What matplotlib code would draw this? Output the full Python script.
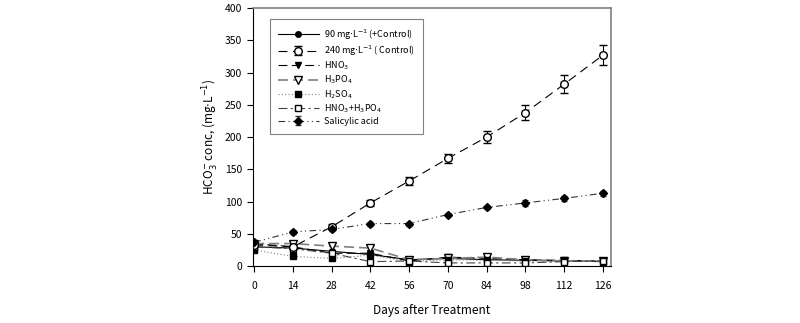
import matplotlib.pyplot as plt
import numpy as np

plt.rcParams['font.family'] = ['Noto Sans CJK KR', 'DejaVu Sans']
plt.rcParams['mathtext.fontset'] = 'dejavusans'

days = [0, 14, 28, 42, 56, 70, 84, 98, 112, 126]

plus_control = [30, 28, 23, 18, 10, 12, 10, 9, 8, 7]
control = [33, 30, 61, 98, 132, 167, 200, 238, 282, 327]
control_err = [3, 3, 4, 5, 6, 7, 9, 11, 14, 15]
hno3 = [35, 30, 20, 20, 8, 14, 12, 10, 9, 8]
h3po4 = [35, 35, 31, 28, 10, 12, 14, 10, 8, 8]
h2so4 = [25, 15, 12, 17, 7, 10, 9, 8, 8, 7]
hno3_h3po4 = [30, 27, 20, 7, 8, 5, 5, 5, 7, 8]
salicylic = [37, 53, 57, 66, 66, 80, 91, 98, 105, 113]
salicylic_err = [2, 3, 3, 3, 3, 3, 3, 4, 4, 4]

labels = ['90 mg$\\cdot$L$^{-1}$ (+Control)', '240 mg$\\cdot$L$^{-1}$ ( Control)',
          'HNO$_3$', 'H$_3$PO$_4$', 'H$_2$SO$_4$', 'HNO$_3$+H$_3$PO$_4$', 'Salicylic acid']

fig = plt.figure(figsize=(8, 3.23), dpi=100)
ax = fig.add_axes([0.316, 0.176, 0.448, 0.799])

lw = 0.8
ms = 4
h1, = ax.plot(days, plus_control, '-', color='black', lw=lw, marker='o', ms=ms,
              mfc='black', mec='black')
h2 = ax.errorbar(days, control, yerr=control_err, color='black', lw=lw, ls=(0, (8, 5)),
                 marker='o', ms=ms + 1.5, mfc='white', mec='black', capsize=3,
                 elinewidth=0.8)
h3, = ax.plot(days, hno3, color='black', lw=lw, ls=(0, (8, 4)), marker='v', ms=ms + 1,
              mfc='black', mec='black')
h4, = ax.plot(days, h3po4, color='gray', lw=lw + 0.4, ls=(0, (6, 3)), marker='v',
              ms=ms + 1.5, mfc='white', mec='black')
h5, = ax.plot(days, h2so4, color='gray', lw=lw, ls=(0, (1, 2)), marker='s', ms=ms,
              mfc='black', mec='black')
h6, = ax.plot(days, hno3_h3po4, color='#444444', lw=lw, ls=(0, (8, 3, 2, 3)), marker='s',
              ms=ms + 1, mfc='white', mec='black')
h7 = ax.errorbar(days, salicylic, yerr=salicylic_err, color='#333333', lw=lw,
                 ls=(0, (6, 3, 1, 3, 1, 3)), marker='D', ms=ms, mfc='black', mec='black',
                 capsize=2, elinewidth=0.8)

ax.set_xlim(-0.5, 129)
ax.set_ylim(0, 400)
ax.set_xticks(days)
ax.set_yticks(np.arange(0, 401, 50))
ax.tick_params(direction='out', length=4, labelsize=7.5, width=0.8)
ax.tick_params(axis='x', pad=7)
ax.spines['top'].set_color('gray')
ax.spines['right'].set_color('gray')
ax.spines['top'].set_linewidth(1.2)
ax.spines['right'].set_linewidth(1.2)

ax.set_xlabel('Days after Treatment', fontsize=8.5, labelpad=9)
ax.set_ylabel('HCO$_3^{-}$ conc, (mg$\\cdot$L$^{-1}$)', fontsize=8.5, labelpad=3)

leg = ax.legend([h1, h2, h3, h4, h5, h6, h7], labels, loc='upper left',
                bbox_to_anchor=(0.035, 0.975), fontsize=6.5, fancybox=False,
                edgecolor='gray', handlelength=4.5, labelspacing=0.2,
                borderpad=0.9, handletextpad=0.6, framealpha=1)
leg.get_frame().set_linewidth(0.8)

fig.savefig('out.png', dpi=100)
